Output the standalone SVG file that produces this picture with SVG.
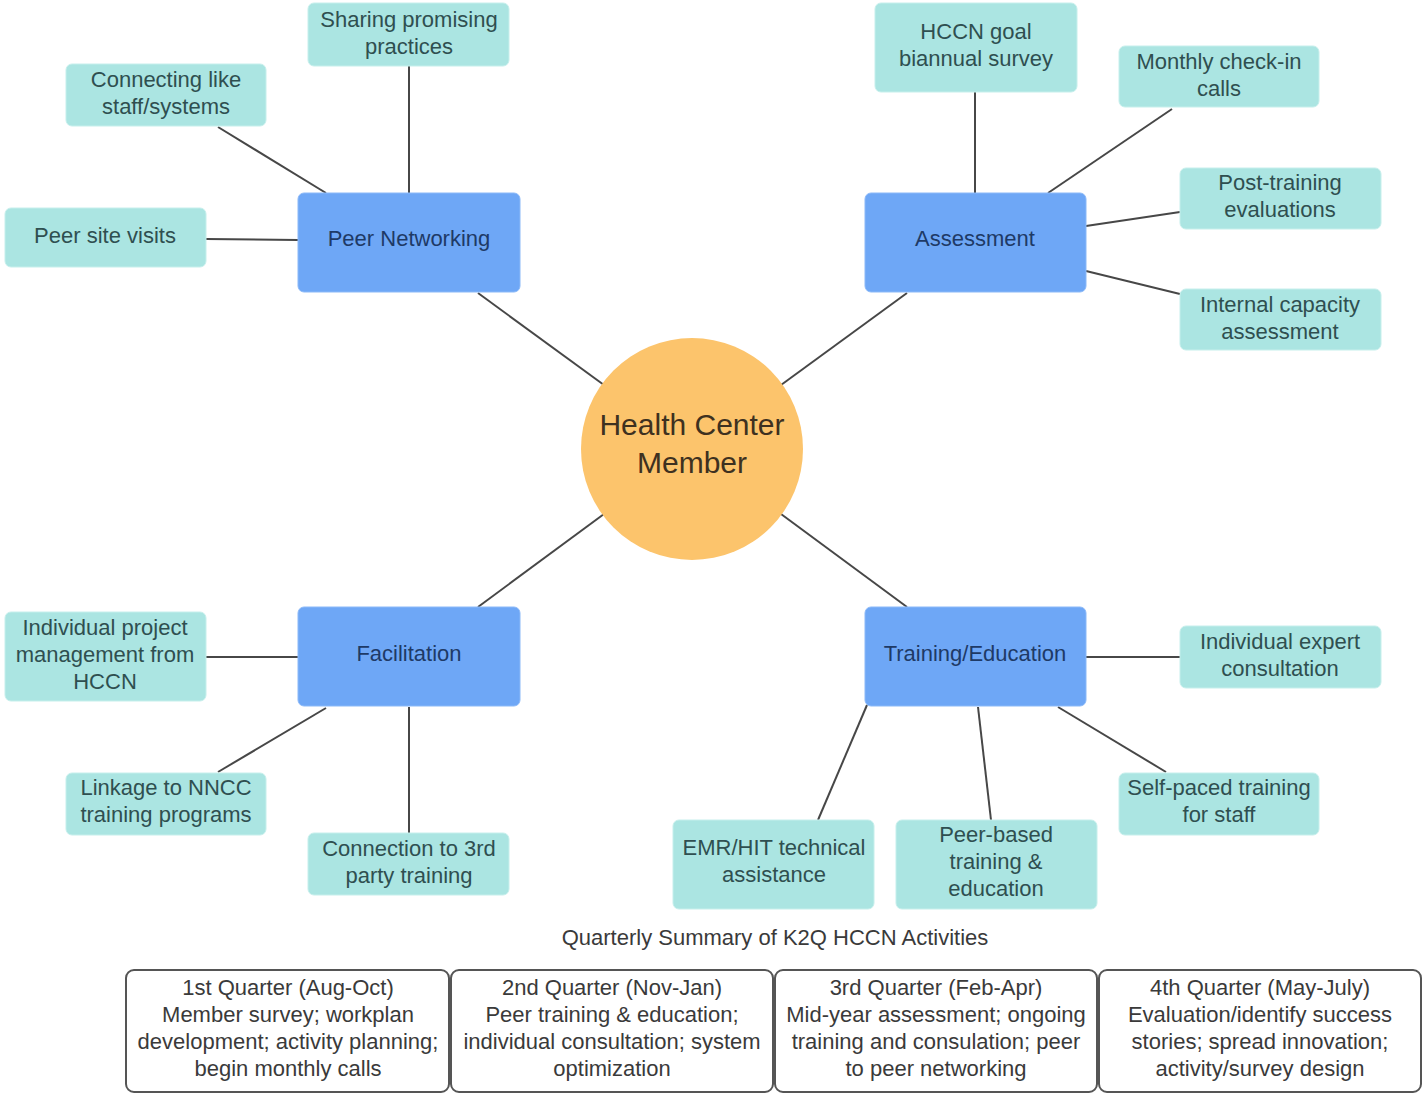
<svg xmlns="http://www.w3.org/2000/svg" width="1425" height="1095" viewBox="0 0 1425 1095">
<style>
text{font-family:"Liberation Sans",Arial,sans-serif;font-size:22px;text-anchor:middle}
.leaf rect{fill:#abe5e2;stroke:#c6efec;stroke-width:1}
.leaf text{fill:#2f4f50}
.main rect{fill:#6ea7f6;stroke:#8bb9f8;stroke-width:1}
.main text{fill:#1e3a66}
.q rect{fill:#fff;stroke:#555;stroke-width:2}
.q text{fill:#3a3a3a}
#connectors line{stroke:#474747;stroke-width:2}
</style>
<rect width="1425" height="1095" fill="#fff"/>
<g id="connectors">
<line x1="409" y1="66" x2="409" y2="193"/>
<line x1="218" y1="127" x2="326" y2="193"/>
<line x1="206" y1="239" x2="298" y2="240"/>
<line x1="478" y1="293" x2="604" y2="385"/>
<line x1="975" y1="92" x2="975" y2="193"/>
<line x1="1172" y1="109" x2="1048" y2="193"/>
<line x1="1086" y1="226" x2="1180" y2="212"/>
<line x1="1086" y1="271" x2="1180" y2="294"/>
<line x1="907" y1="293" x2="781" y2="385"/>
<line x1="478" y1="607" x2="604" y2="514"/>
<line x1="206" y1="657" x2="298" y2="657"/>
<line x1="218" y1="772" x2="326" y2="708"/>
<line x1="409" y1="707" x2="409" y2="833"/>
<line x1="907" y1="607" x2="781" y2="514"/>
<line x1="1086" y1="657" x2="1180" y2="657"/>
<line x1="1058" y1="707" x2="1166" y2="772"/>
<line x1="867" y1="705" x2="818" y2="820"/>
<line x1="978" y1="707" x2="991" y2="820"/>
</g>
<g id="center">
<circle cx="692" cy="449" r="111" fill="#fcc46c"/>
<text x="692" y="435" style="font-size:30px;fill:#3e3120">Health Center</text>
<text x="692" y="473" style="font-size:30px;fill:#3e3120">Member</text>
</g>
<g id="peer-networking" class="main"><rect x="298" y="193" width="222" height="99" rx="6"/><text x="409" y="246">Peer Networking</text></g>
<g id="assessment" class="main"><rect x="865" y="193" width="221" height="99" rx="6"/><text x="975" y="246">Assessment</text></g>
<g id="facilitation" class="main"><rect x="298" y="607" width="222" height="99" rx="6"/><text x="409" y="661">Facilitation</text></g>
<g id="training-education" class="main"><rect x="865" y="607" width="221" height="99" rx="6"/><text x="975" y="661">Training/Education</text></g>

<g id="sharing" class="leaf"><rect x="308" y="3" width="201" height="63" rx="6"/><text x="409" y="27">Sharing promising</text><text x="409" y="54">practices</text></g>
<g id="connecting" class="leaf"><rect x="66" y="64" width="200" height="62" rx="6"/><text x="166" y="87">Connecting like</text><text x="166" y="114">staff/systems</text></g>
<g id="site-visits" class="leaf"><rect x="5" y="208" width="201" height="59" rx="6"/><text x="105" y="243">Peer site visits</text></g>
<g id="hccn-survey" class="leaf"><rect x="875" y="3" width="202" height="89" rx="6"/><text x="976" y="39">HCCN goal</text><text x="976" y="66">biannual survey</text></g>
<g id="monthly" class="leaf"><rect x="1119" y="46" width="200" height="61" rx="6"/><text x="1219" y="69">Monthly check-in</text><text x="1219" y="96">calls</text></g>
<g id="post-training" class="leaf"><rect x="1180" y="168" width="201" height="61" rx="6"/><text x="1280" y="190">Post-training</text><text x="1280" y="217">evaluations</text></g>
<g id="internal" class="leaf"><rect x="1180" y="289" width="201" height="61" rx="6"/><text x="1280" y="312">Internal capacity</text><text x="1280" y="339">assessment</text></g>
<g id="project-mgmt" class="leaf"><rect x="5" y="612" width="201" height="89" rx="6"/><text x="105" y="635">Individual project</text><text x="105" y="662">management from</text><text x="105" y="689">HCCN</text></g>
<g id="linkage" class="leaf"><rect x="66" y="773" width="200" height="62" rx="6"/><text x="166" y="795">Linkage to NNCC</text><text x="166" y="822">training programs</text></g>
<g id="third-party" class="leaf"><rect x="308" y="833" width="201" height="62" rx="6"/><text x="409" y="856">Connection to 3rd</text><text x="409" y="883">party training</text></g>
<g id="expert" class="leaf"><rect x="1180" y="626" width="201" height="62" rx="6"/><text x="1280" y="649">Individual expert</text><text x="1280" y="676">consultation</text></g>
<g id="self-paced" class="leaf"><rect x="1119" y="773" width="200" height="62" rx="6"/><text x="1219" y="795">Self-paced training</text><text x="1219" y="822">for staff</text></g>
<g id="emr" class="leaf"><rect x="673" y="820" width="201" height="89" rx="6"/><text x="774" y="855">EMR/HIT technical</text><text x="774" y="882">assistance</text></g>
<g id="peer-based" class="leaf"><rect x="896" y="820" width="201" height="89" rx="6"/><text x="996" y="842">Peer-based</text><text x="996" y="869">training &amp;</text><text x="996" y="896">education</text></g>

<text x="775" y="945" style="fill:#3a3a3a;font-size:22px">Quarterly Summary of K2Q HCCN Activities</text>
<g id="q1" class="q"><rect x="126" y="970" width="323" height="122" rx="8"/><text x="288" y="995">1st Quarter (Aug-Oct)</text><text x="288" y="1022">Member survey; workplan</text><text x="288" y="1049">development; activity planning;</text><text x="288" y="1076">begin monthly calls</text></g>
<g id="q2" class="q"><rect x="451" y="970" width="322" height="122" rx="8"/><text x="612" y="995">2nd Quarter (Nov-Jan)</text><text x="612" y="1022">Peer training &amp; education;</text><text x="612" y="1049">individual consultation; system</text><text x="612" y="1076">optimization</text></g>
<g id="q3" class="q"><rect x="775" y="970" width="322" height="122" rx="8"/><text x="936" y="995">3rd Quarter (Feb-Apr)</text><text x="936" y="1022">Mid-year assessment; ongoing</text><text x="936" y="1049">training and consulation; peer</text><text x="936" y="1076">to peer networking</text></g>
<g id="q4" class="q"><rect x="1099" y="970" width="322" height="122" rx="8"/><text x="1260" y="995">4th Quarter (May-July)</text><text x="1260" y="1022">Evaluation/identify success</text><text x="1260" y="1049">stories; spread innovation;</text><text x="1260" y="1076">activity/survey design</text></g>
</svg>
